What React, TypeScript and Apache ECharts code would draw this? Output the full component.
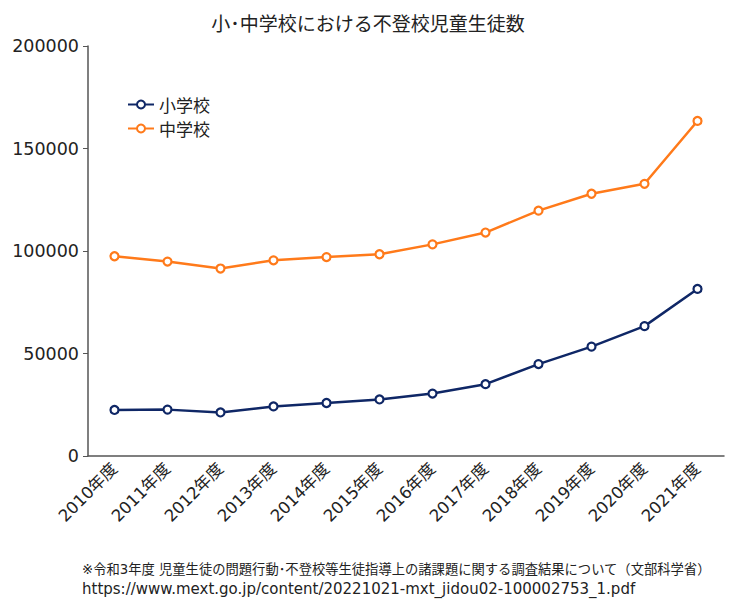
import React, { useEffect, useRef } from "react";
import * as echarts from "echarts";

const categories = ["2010年度", "2011年度", "2012年度", "2013年度", "2014年度", "2015年度", "2016年度", "2017年度", "2018年度", "2019年度", "2020年度", "2021年度"];
const elementary = [22463, 22622, 21243, 24175, 25864, 27583, 30448, 35032, 44841, 53350, 63350, 81498];
const juniorHigh = [97428, 94836, 91446, 95442, 97033, 98408, 103235, 108999, 119687, 127922, 132777, 163442];
const titleText = "小･中学校における不登校児童生徒数";
const footnote1 = "※令和3年度 児童生徒の問題行動･不登校等生徒指導上の諸課題に関する調査結果について（文部科学省）";
const footnote2 = "https://www.mext.go.jp/content/20221021-mxt_jidou02-100002753_1.pdf";

const FONT = "'Noto Sans CJK JP', 'Noto Sans', sans-serif";
const MIX = "'DejaVu Sans', 'Noto Sans CJK JP', sans-serif";

export default function App() {
  const ref = useRef<HTMLDivElement>(null);
  useEffect(() => {
    if (!ref.current) return;
    const chart = echarts.init(ref.current, null, { renderer: "svg" });
    chart.setOption({
      animation: false,
      backgroundColor: "#ffffff",
      textStyle: { fontFamily: FONT },
      title: {
        text: titleText,
        left: "center",
        top: 8,
        textStyle: { fontFamily: FONT, fontSize: 19, fontWeight: "normal", color: "#222" },
      },
      legend: {
        orient: "vertical",
        left: 122,
        top: 91,
        itemGap: 7,
        itemWidth: 26,
        itemHeight: 10,
        textStyle: { fontFamily: FONT, fontSize: 17, color: "#222" },
        data: ["小学校", "中学校"],
      },
      grid: { left: 88, right: 12, top: 46, bottom: 147, containLabel: false },
      xAxis: {
        type: "category",
        data: categories,
        boundaryGap: true,
        axisLine: { lineStyle: { color: "#555", width: 1.5 } },
        axisTick: { show: false },
        axisLabel: {
          rotate: 45,
          interval: 0,
          fontFamily: MIX,
          fontSize: 16.5,
          color: "#222",
          margin: 10,
        },
      },
      yAxis: {
        type: "value",
        min: 0,
        max: 200000,
        interval: 50000,
        axisLine: { show: true, lineStyle: { color: "#555", width: 1.5 } },
        axisTick: { show: true, length: 5, lineStyle: { color: "#555" } },
        splitLine: { show: false },
        axisLabel: {
          fontFamily: MIX,
          fontSize: 17.5,
          color: "#222",
          margin: 9,
          formatter: (v: number) => String(v),
        },
      },
      series: [
        {
          name: "小学校",
          type: "line",
          data: elementary,
          symbol: "circle",
          symbolSize: 8,
          itemStyle: { color: "#ffffff", borderColor: "#0f2766", borderWidth: 2.2 },
          lineStyle: { color: "#0f2766", width: 2.5 },
          color: "#0f2766",
        },
        {
          name: "中学校",
          type: "line",
          data: juniorHigh,
          symbol: "circle",
          symbolSize: 8,
          itemStyle: { color: "#ffffff", borderColor: "#ff7a1a", borderWidth: 2.2 },
          lineStyle: { color: "#ff7a1a", width: 2.5 },
          color: "#ff7a1a",
        },
      ],
      graphic: [
        {
          type: "text",
          left: 82,
          top: 563,
          style: { text: footnote1, font: `13.3px ${MIX}`, fill: "#222" },
        },
        {
          type: "text",
          left: 82,
          top: 581,
          style: { text: footnote2, font: `15px ${MIX}`, fill: "#222" },
        },
      ],
    });
    return () => chart.dispose();
  }, []);
  return <div ref={ref} style={{ width: 736, height: 603, position: "absolute", left: 0, top: 0 }} />;
}
